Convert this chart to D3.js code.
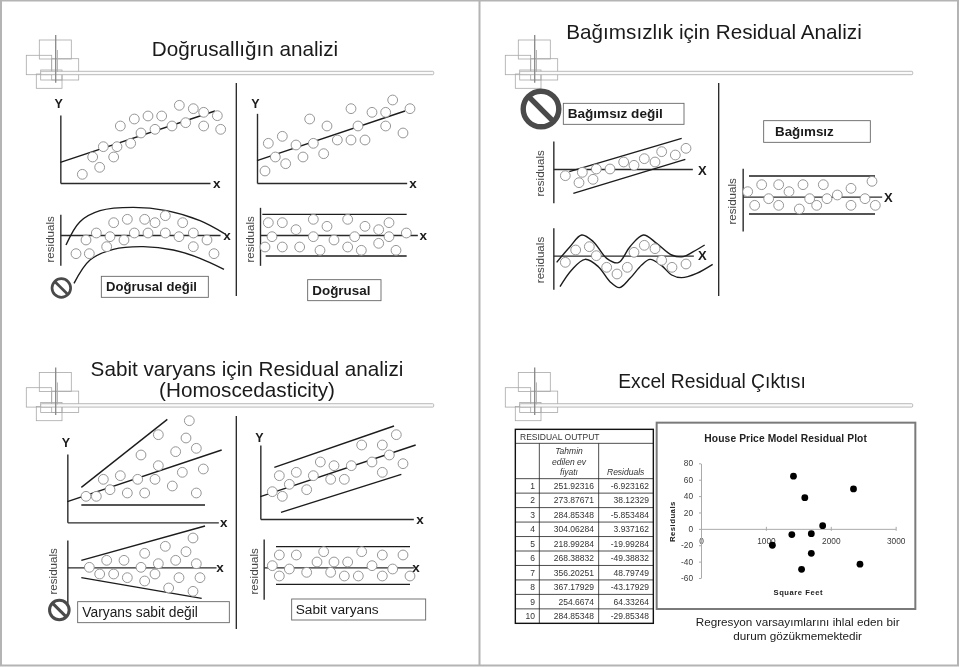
<!DOCTYPE html>
<html>
<head>
<meta charset="utf-8">
<script src="https://cdn.jsdelivr.net/npm/d3@7"></script>
<style>
  html, body { margin: 0; padding: 0; background: #fff; }
  svg { display: block; font-family: "Liberation Sans", Arial, sans-serif; filter: blur(0.35px); }
  .axis-mini path { stroke: #2a2a2a; stroke-width: 1.4px; }
  .tick text { fill: #3a3a3a; }
</style>
</head>
<body>
<svg id="chart" width="959" height="667"></svg>
<script>

// top left slide
const curvedScatter = [[66,26],[97,78],[118,47],[129,109],[160,78],[170,109],[211,119],[180,171],[222,192],[263,201],[304,201],[242,150],[284,161],[335,171],[376,181],[357,233],[399,223],[430,212],[471,202],[430,171],[481,161]];
const curvedFit = [[0,62],[464,216]];
const linearScatter = [[24,36],[55,78],[86,58],[34,119],[76,140],[117,114],[138,78],[169,119],[200,88],[158,192],[210,171],[241,129],[282,129],[324,129],[303,171],[282,223],[345,212],[386,212],[407,249],[386,171],[438,150],[459,223]];
const linearFit = [[0,67],[444,216]];
const curvedResiduals = [[47,-56],[87,-56],[77,-15],[108,6],[139,-35],[149,-5],[160,37],[191,-15],[201,47],[222,6],[253,47],[263,6],[284,37],[315,58],[315,6],[356,-5],[367,37],[399,6],[399,-35],[440,-15],[461,-56]];
const curvedUpper = [[17,-30],[59,40],[119,73],[219,83],[319,73],[419,43],[491,5]];
const curvedLower = [[41,-145],[89,-75],[159,-43],[249,-35],[339,-45],[419,-70],[491,-103]];
const linearResiduals = [[15,-36],[25,37],[36,-5],[67,37],[67,-36],[108,16],[119,-36],[160,47],[160,-5],[180,-46],[201,26],[222,-15],[263,47],[263,-36],[284,-5],[304,-46],[315,26],[356,16],[356,-25],[387,37],[387,-5],[408,-46],[439,6]];
const linearBandTop = [[7,62],[440,62]];
const linearBandBottom = [[17,-63],[440,-63]];

// top right slide
const trendResiduals = [[36,-20],[77,-41],[87,-10],[119,-31],[129,0],[170,0],[211,21],[242,11],[273,31],[305,21],[325,52],[366,42],[398,62]];
const trendTop = [[48,-8],[385,92]];
const trendBottom = [[60,-73],[396,29]];
const waveResiduals = [[36,-20],[67,17],[108,27],[129,0],[160,-35],[191,-55],[222,-35],[242,10],[273,31],[305,21],[325,-14],[356,-35],[398,-25]];
const waveUpper = [[10,-20],[50,27],[85,62],[120,42],[160,-8],[195,-21],[230,27],[270,62],[310,37],[355,2],[390,-3],[420,12],[454,32]];
const waveLower = [[20,-93],[55,-43],[95,-11],[135,-33],[170,-78],[198,-96],[230,-68],[265,-28],[290,-11],[325,-30],[355,-58],[385,-66],[430,-53],[478,-26]];
const flatResiduals = [[15,15],[36,-26],[57,36],[78,-6],[108,36],[108,-26],[139,15],[170,-37],[181,36],[201,-6],[222,-26],[242,36],[253,-6],[284,5],[325,25],[325,-26],[367,-6],[388,46],[398,-26]];
const flatTop = [[19,62],[397,62]];
const flatBottom = [[19,-52],[397,-52]];

// bottom left slide
const fanScatter = [[56,78],[87,78],[108,129],[128,98],[159,140],[180,88],[211,129],[232,88],[221,202],[263,129],[273,170],[273,263],[315,109],[325,212],[345,150],[356,253],[366,305],[387,222],[387,88],[408,160]];
const fanFit = [[0,62],[463,217]];
const fanTop = [[42,105],[300,309]];
const fanBottom = [[42,52],[413,52]];
const evenScatter = [[36,82],[66,68],[57,130],[87,104],[108,140],[139,88],[159,130],[180,171],[211,119],[221,160],[252,119],[273,160],[304,222],[335,171],[366,222],[366,140],[387,192],[408,253],[428,166]];
const evenFit = [[0,67],[466,222]];
const evenTop = [[42,155],[401,279]];
const evenBottom = [[62,20],[423,134]];
const fanResiduals = [[66,0],[97,-20],[118,21],[139,-20],[170,21],[180,-31],[221,0],[232,42],[232,-41],[263,-20],[273,11],[294,63],[304,-62],[325,21],[335,-31],[356,47],[377,88],[387,11],[377,-72],[398,-31]];
const fanResTop = [[42,21],[413,124]];
const fanResBottom = [[42,-31],[403,-93]];
const evenResiduals = [[26,5],[47,37],[47,-26],[77,-5],[98,37],[129,-15],[160,16],[180,47],[201,-15],[211,16],[242,-26],[252,16],[284,-26],[294,47],[325,5],[356,37],[356,-26],[387,-5],[418,37],[439,-26]];
const evenResTop = [[37,62],[439,62]];
const evenResBottom = [[37,-51],[439,-51]];

// bottom right slide: excel output
const observationIds = [1,2,3,4,5,6,7,8,9,10];
const predictedPrices = ["251.92316","273.87671","284.85348","304.06284","218.99284","268.38832","356.20251","367.17929","254.6674","284.85348"];
const residualValues = [-6.923162,38.12329,-5.853484,3.937162,-19.99284,-49.38832,48.79749,-43.17929,64.33264,-29.85348];
const squareFeet = [1400,1600,1700,1875,1100,1550,2350,2450,1425,1700];
const xTicks = [0,1000,2000,3000];
const yTicks = [-60,-40,-20,0,20,40,60,80];

const svg = d3.select("#chart");
const ink = "#1a1a1a";
const circleStroke = "#8a8a8a";

const slideA = [0,0], slideB = [480,0], slideC = [0,340], slideD = [500,420];
const at = (slide, zx, zy) => [slide[0] + zx/3, slide[1] + zy/3];

// slide frames
[[1,0,1,666],[0,0.5,959,0.5],[958,0,958,666],[0,665.5,959,665.5],[479.5,0,479.5,666]].forEach(l => {
  svg.append("line").attr("x1",l[0]).attr("y1",l[1]).attr("x2",l[2]).attr("y2",l[3])
    .attr("stroke","#b4b4b4").attr("stroke-width",2);
});

// the little squares and the rule under each title
function drawDecoration(dx, dy) {
  let g = svg.append("g").attr("transform",`translate(${dx},${dy})`)
    .attr("fill","none").attr("stroke","#a8a8a8").attr("stroke-width",0.8);
  g.append("rect").attr("x",39.3).attr("y",40).attr("width",32).attr("height",19);
  g.append("rect").attr("x",51.7).attr("y",58.7).attr("width",27).attr("height",21.3);
  g.append("rect").attr("x",26.3).attr("y",55.3).attr("width",25.4).attr("height",19.4);
  g.append("rect").attr("x",36.3).attr("y",74).attr("width",25.7).attr("height",14.3);
  g.append("rect").attr("x",40.7).attr("y",70).attr("width",21.3).attr("height",10);
  g.append("rect").attr("x",40.7).attr("y",71.3).attr("width",393).attr("height",3.4).attr("rx",1)
    .attr("fill","#fafafa");
  g.append("line").attr("x1",55.7).attr("y1",35).attr("x2",55.7).attr("y2",82.7)
    .attr("stroke","#888").attr("stroke-width",1.3);
  g.append("line").attr("x1",57.4).attr("y1",50).attr("x2",57.4).attr("y2",72)
    .attr("stroke","#b0b0b0").attr("stroke-width",1);
}
[[0,0],[479,0],[0,332.4],[479,332.4]].forEach(d => drawDecoration(d[0],d[1]));

function title(lines, cx, y, size) {
  lines.forEach((t,i) => {
    svg.append("text").attr("x",cx).attr("y",y + i*21).attr("text-anchor","middle")
      .attr("font-size",size).attr("fill",ink).text(t);
  });
}
title(["Doğrusallığın analizi"], 245, 56, 20.7);
title(["Bağımsızlık için Residual Analizi"], 714, 39, 20.7);
title(["Sabit varyans için Residual analizi","(Homoscedasticity)"], 247, 376, 20.7);
title(["Excel Residual Çıktısı"], 712, 388, 19.3);

function divider(x, y1, y2) {
  svg.append("line").attr("x1",x).attr("x2",x).attr("y1",y1).attr("y2",y2)
    .attr("stroke","#222").attr("stroke-width",1.3);
}
divider(236.3,83,296);
divider(718.7,83,296);
divider(236.3,416,629);

function smallText(slide, zx, zy, txt, opts) {
  let p = at(slide, zx, zy);
  let t = svg.append("text").attr("text-anchor","middle").attr("dominant-baseline","central")
    .attr("fill",opts.fill || ink).attr("font-size",opts.size).attr("font-weight",opts.bold ? "bold" : "normal");
  if (opts.rotate) t.attr("transform",`translate(${p[0]},${p[1]}) rotate(-90)`);
  else t.attr("x",p[0]).attr("y",p[1]);
  t.text(txt);
}

function drawMini(cfg) {
  let o = at(cfg.slide, cfg.origin[0], cfg.origin[1]);
  let x = d3.scaleLinear().domain([0,cfg.xMax]).range([o[0], o[0] + cfg.xMax/3]);
  let y = d3.scaleLinear().domain([cfg.yMin,cfg.yMax]).range([o[1] - cfg.yMin/3, o[1] - cfg.yMax/3]);
  let g = svg.append("g");

  let line = d3.line().x(d => x(d[0])).y(d => y(d[1]));
  let curve = d3.line().x(d => x(d[0])).y(d => y(d[1])).curve(d3.curveCatmullRom.alpha(0.5));

  g.append("g").attr("class","axis-mini").attr("transform",`translate(0,${y(0)})`)
    .call(d3.axisBottom(x).tickValues([]).tickSize(0));
  g.append("g").attr("class","axis-mini").attr("transform",`translate(${x(0)},0)`)
    .call(d3.axisLeft(y).tickValues([]).tickSize(0));

  g.selectAll(".straight").data(cfg.lines || []).enter().append("path").attr("class","straight")
    .attr("d",line).attr("fill","none").attr("stroke","#1c1c1c").attr("stroke-width",1.4);
  g.selectAll(".bent").data(cfg.curves || []).enter().append("path").attr("class","bent")
    .attr("d",curve).attr("fill","none").attr("stroke","#1c1c1c").attr("stroke-width",1.4);

  g.selectAll("circle").data(cfg.points).enter().append("circle")
    .attr("cx",d => x(d[0])).attr("cy",d => y(d[1])).attr("r",4.9)
    .attr("fill","#fff").attr("stroke",circleStroke).attr("stroke-width",0.9);

  if (cfg.yLabel) smallText(cfg.slide, cfg.yLabel[0], cfg.yLabel[1], "Y", {size:12.5, bold:true});
  if (cfg.resLabel) smallText(cfg.slide, cfg.resLabel[0], cfg.resLabel[1], "residuals", {size:11.6, fill:"#444", rotate:true});
  smallText(cfg.slide, cfg.xLabel[0], cfg.xLabel[1], cfg.xText || "x", {size:cfg.xText ? 13 : 13.5, bold:true});
}

drawMini({slide:slideA, origin:[181,549], xMax:449, yMin:0, yMax:204, points:curvedScatter, lines:[curvedFit], yLabel:[176,313], xLabel:[650,550]});
drawMini({slide:slideA, origin:[771,549], xMax:449, yMin:0, yMax:209, points:linearScatter, lines:[linearFit], yLabel:[766,313], xLabel:[1239,550]});
drawMini({slide:slideA, origin:[181,705], xMax:479, yMin:-91, yMax:62, points:curvedResiduals, curves:[curvedUpper,curvedLower], resLabel:[148,718], xLabel:[681,705]});
drawMini({slide:slideA, origin:[780,705], xMax:472, yMin:-91, yMax:83, points:linearResiduals, lines:[linearBandTop,linearBandBottom], resLabel:[748,718], xLabel:[1270,705]});

drawMini({slide:slideB, origin:[220,507], xMax:417, yMin:-101, yMax:84, points:trendResiduals, lines:[trendTop,trendBottom], resLabel:[177,520], xLabel:[667,510], xText:"X"});
drawMini({slide:slideB, origin:[220,767], xMax:420, yMin:-101, yMax:84, points:waveResiduals, curves:[waveUpper,waveLower], resLabel:[177,780], xLabel:[667,767], xText:"X"});
drawMini({slide:slideB, origin:[788,590], xMax:417, yMin:-103, yMax:85, points:flatResiduals, lines:[flatTop,flatBottom], resLabel:[755,604], xLabel:[1225,592], xText:"X"});

drawMini({slide:slideC, origin:[202,547], xMax:453, yMin:0, yMax:205, points:fanScatter, lines:[fanFit,fanTop,fanBottom], yLabel:[198,310], xLabel:[671,548]});
drawMini({slide:slideC, origin:[781,537], xMax:459, yMin:0, yMax:222, points:evenScatter, lines:[evenFit,evenTop,evenBottom], yLabel:[778,294], xLabel:[1260,538]});
drawMini({slide:slideC, origin:[202,682], xMax:446, yMin:-108, yMax:82, points:fanResiduals, lines:[fanResTop,fanResBottom], resLabel:[158,694], xLabel:[660,683]});
drawMini({slide:slideC, origin:[791,682], xMax:449, yMin:-96, yMax:85, points:evenResiduals, lines:[evenResTop,evenResBottom], resLabel:[760,694], xLabel:[1248,683]});

// captions in boxes
function caption(slide, box, txt, textX, size, bold) {
  let a = at(slide, box[0], box[1]), b = at(slide, box[2], box[3]);
  svg.append("rect").attr("x",a[0]).attr("y",a[1]).attr("width",b[0]-a[0]).attr("height",b[1]-a[1])
    .attr("fill","#fff").attr("stroke","#666").attr("stroke-width",0.9);
  let p = at(slide, textX, (box[1]+box[3])/2);
  svg.append("text").attr("x",p[0]).attr("y",p[1]).attr("dominant-baseline","central")
    .attr("font-size",size).attr("font-weight",bold ? "bold" : "normal").attr("fill",ink).text(txt);
}
caption(slideA,[304,829,625,892],"Doğrusal değil",318,13.1,true);
caption(slideA,[923,839,1143,902],"Doğrusal",937,13.4,true);
caption(slideB,[250,310,612,373],"Bağımsız değil",263,13.6,true);
caption(slideB,[851,362,1171,427],"Bağımsız",885,13.4,true);
caption(slideC,[233,785,688,848],"Varyans sabit değil",247,13.8,false);
caption(slideC,[875,777,1277,840],"Sabit varyans",887,13.7,false);

// no-entry signs
function noSign(slide, zx, zy, r, w) {
  let p = at(slide, zx, zy);
  let g = svg.append("g").attr("transform",`translate(${p[0]},${p[1]})`);
  g.append("circle").attr("r",r).attr("fill","#fff").attr("stroke","#4a4a4a").attr("stroke-width",w);
  let k = r * Math.SQRT1_2;
  g.append("line").attr("x1",-k).attr("y1",-k).attr("x2",k).attr("y2",k)
    .attr("stroke","#4a4a4a").attr("stroke-width",w);
}
noSign(slideA,184,864,9.3,2.7);
noSign(slideB,183,327,17.8,5.4);
noSign(slideC,178,810,9.8,3);

// excel table
const tableTop = at(slideD,46,28), tableEnd = at(slideD,460,610);
const colX = [46,118,296,460].map(z => slideD[0] + z/3);
const rowBand = d3.scaleBand().domain(observationIds)
  .range([slideD[1] + 176/3, slideD[1] + 610/3]);
const table = svg.append("g");
const tableRule = (x1,y1,x2,y2) => table.append("line").attr("x1",x1).attr("y1",y1).attr("x2",x2).attr("y2",y2)
  .attr("stroke","#222").attr("stroke-width",0.8);

observationIds.forEach(id => tableRule(colX[0],rowBand(id),colX[3],rowBand(id)));
tableRule(colX[0],slideD[1]+70/3,colX[3],slideD[1]+70/3);
tableRule(colX[1],slideD[1]+70/3,colX[1],tableEnd[1]);
tableRule(colX[2],slideD[1]+70/3,colX[2],tableEnd[1]);
table.append("rect").attr("x",tableTop[0]).attr("y",tableTop[1])
  .attr("width",tableEnd[0]-tableTop[0]).attr("height",tableEnd[1]-tableTop[1])
  .attr("fill","none").attr("stroke","#111").attr("stroke-width",1.4);

const cell = (x,y,txt,anchor,italic) => table.append("text").attr("x",x).attr("y",y)
  .attr("dominant-baseline","central").attr("text-anchor",anchor).attr("font-size",8.5)
  .attr("font-style",italic ? "italic" : "normal").attr("fill","#333").text(txt);

cell(slideD[0]+60/3, slideD[1]+50/3, "RESIDUAL OUTPUT", "start");
["Tahmin","edilen ev","fiyatı"].forEach((t,i) => cell(slideD[0]+207/3, slideD[1]+(93+32*i)/3, t, "middle", true));
cell(slideD[0]+433/3, slideD[1]+157/3, "Residuals", "end", true);

observationIds.forEach((id,i) => {
  let cy = rowBand(id) + rowBand.bandwidth()/2;
  cell(slideD[0]+105/3, cy, id, "end");
  cell(slideD[0]+282/3, cy, predictedPrices[i], "end");
  cell(slideD[0]+447/3, cy, residualValues[i], "end");
});

// residual plot
svg.append("rect").attr("x",slideD[0]+470/3).attr("y",slideD[1]+8/3).attr("width",776/3).attr("height",559/3)
  .attr("fill","#fff").attr("stroke","#7a7a7a").attr("stroke-width",2);

const xRes = d3.scaleLinear().domain([0,3000]).range([slideD[0]+603/3, slideD[0]+1187/3]);
const yRes = d3.scaleLinear().domain([-60,80]).range([slideD[1]+474/3, slideD[1]+130/3]);

const xAxisG = svg.append("g").attr("transform",`translate(0,${yRes(0)})`)
  .call(d3.axisBottom(xRes).tickValues(xTicks).tickFormat(String).tickSize(2).tickSizeOuter(0).tickPadding(7));
const yAxisG = svg.append("g").attr("transform",`translate(${xRes(0)},0)`)
  .call(d3.axisLeft(yRes).tickValues(yTicks).tickFormat(String).tickSize(2).tickSizeOuter(0).tickPadding(6));
[xAxisG,yAxisG].forEach(a => {
  a.attr("font-family","inherit").attr("font-size",8.3);
  a.selectAll("path,line").attr("stroke","#aaa");
});
xAxisG.selectAll("line").attr("y1",-2);

svg.append("g").selectAll("circle").data(squareFeet).enter().append("circle")
  .attr("cx",d => xRes(d)).attr("cy",(d,i) => yRes(residualValues[i])).attr("r",3.4).attr("fill","#000");

const chartLabel = (z1,z2,txt,size,spacing,rot) => {
  let p = at(slideD,z1,z2);
  let t = svg.append("text").attr("text-anchor","middle").attr("dominant-baseline","central")
    .attr("font-size",size).attr("font-weight","bold").attr("fill","#222")
    .attr("letter-spacing",spacing).attr("transform",`translate(${p[0]},${p[1]})${rot ? " rotate(-90)" : ""}`);
  t.text(txt);
};
chartLabel(857,54,"House Price Model Residual Plot",10.25,0.1);
chartLabel(895,518,"Square Feet",7.6,0.55);
chartLabel(517,305,"Residuals",7.8,0.45,true);

["Regresyon varsayımlarını ihlal eden bir","durum gözükmemektedir"].forEach((t,i) => {
  let p = at(slideD,893,604 + i*41);
  svg.append("text").attr("x",p[0]).attr("y",p[1]).attr("text-anchor","middle").attr("dominant-baseline","central")
    .attr("font-size",11.7).attr("word-spacing",i ? 0 : 0.3)
    .attr("fill",ink).text(t);
});
</script>
</body>
</html>
